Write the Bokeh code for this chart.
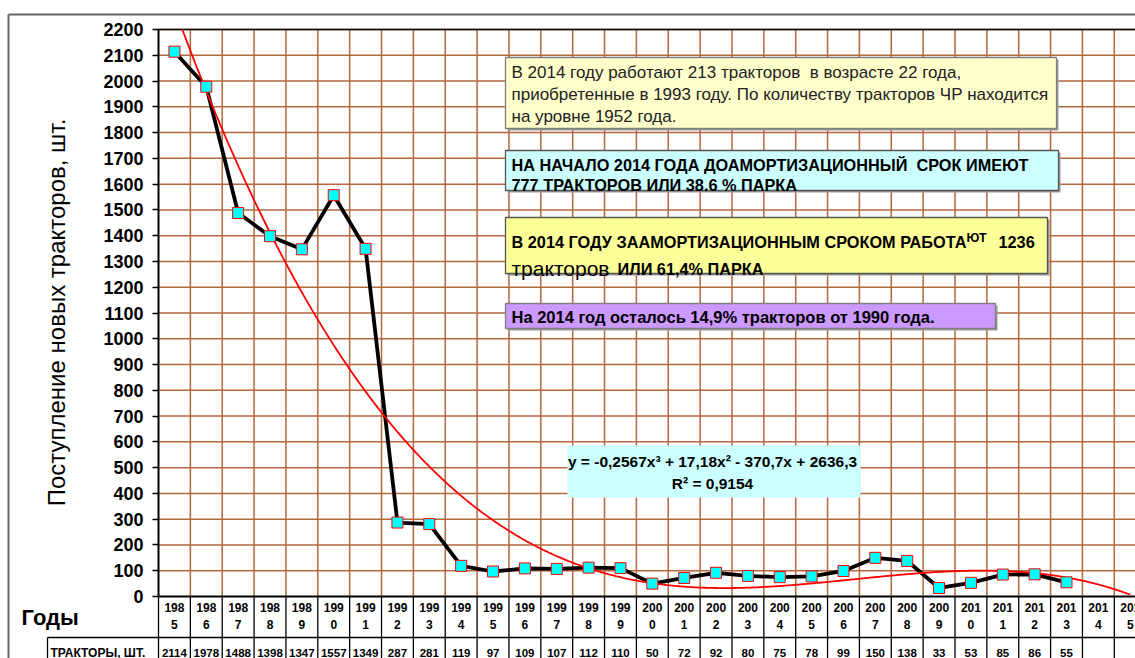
import numpy as np
from math import pi
from bokeh.plotting import figure
from bokeh.models import LinearAxis, FixedTicker, Range1d
from bokeh.embed import file_html
from bokeh.resources import INLINE
from bokeh.core.properties import value

# ---------------- data ----------------
years = list(range(1985, 2016))
tractors = [2114, 1978, 1488, 1398, 1347, 1557, 1349, 287, 281, 119, 97, 109, 107,
            112, 110, 50, 72, 92, 80, 75, 78, 99, 150, 138, 33, 53, 85, 86, 55]
value_labels = [str(v) for v in tractors] + [""] * (len(years) - len(tractors))
year_top = [str(y)[:3] for y in years]
year_bot = [str(y)[3:] for y in years]
y_ticks = list(range(0, 2201, 100))
trend_coef = [-0.2567, 17.18, -370.7, 2636.3]   # y = a x^3 + b x^2 + c x + d, x = 1..31

y_title = "Поступление новых тракторов, шт."
x_title = "Годы"
row_title = "ТРАКТОРЫ, ШТ."
box1_lines = ["В 2014 году работают 213 тракторов \u00a0в возрасте 22 года,",
              "приобретенные в 1993 году. По количеству тракторов ЧР находится",
              "на уровне 1952 года."]
box2_lines = ["НА НАЧАЛО 2014 ГОДА ДОАМОРТИЗАЦИОННЫЙ \u00a0СРОК ИМЕЮТ",
              "777 ТРАКТОРОВ ИЛИ 38.6 % ПАРКА"]
box3_parts = ["В 2014 ГОДУ ЗААМОРТИЗАЦИОННЫМ СРОКОМ РАБОТА", "ЮТ", "1236",
              "тракторов", "ИЛИ 61,4% ПАРКА"]
box4_text = "На 2014 год осталось 14,9% тракторов от 1990 года."
eq_lines = ["y = -0,2567x³ + 17,18x² - 370,7x + 2636,3", "R² = 0,9154"]

# ---------------- geometry ----------------
W, H = 1135, 658
PAGE = 0
PLOT_L, PLOT_T, PLOT_B = 158, 29, 596   # page px
COL_W = 31.86
Y_MAX = 2200
ppu = (PLOT_B - PLOT_T) / Y_MAX
x_start = years[0] - 0.5
x0 = x_start - (PLOT_L - PAGE) / COL_W
x1 = x0 + W / COL_W
y1 = Y_MAX + (PLOT_T - PAGE) / ppu
y0 = -((PAGE + H) - PLOT_B) / ppu


def X(px):
    return x0 + (px - PAGE) / COL_W


def Y(py):
    return y1 - (py - PAGE) / ppu


FONT = value("Liberation Sans")

p = figure(width=W, height=H, x_range=Range1d(x0, x1), y_range=Range1d(y0, y1),
           output_backend="svg", toolbar_location=None, title=None,
           x_axis_location=None, y_axis_location=None, min_border=0,
           outline_line_color=None, background_fill_color="white",
           border_fill_color="white")
p.xgrid.visible = False
p.ygrid.visible = False

GRID = "#B5673F"
# horizontal grid
hy = y_ticks[1:]
p.segment(x0=[x_start] * len(hy), x1=[x1] * len(hy), y0=hy, y1=hy,
          line_color=GRID, line_width=1.5)
# vertical grid at category boundaries
bounds = [x_start + k for k in range(len(years) + 1)]
p.segment(x0=bounds[1:], x1=bounds[1:], y0=[0] * len(bounds[1:]), y1=[Y_MAX] * len(bounds[1:]),
          line_color=GRID, line_width=1.5)
# top border of plot area
p.segment(x0=[x_start], x1=[x1], y0=[Y_MAX], y1=[Y_MAX], line_color="black", line_width=1.5)

# table lines
p.segment(x0=[x_start], x1=[x1], y0=[0], y1=[0], line_color="black", line_width=1.8)
p.segment(x0=bounds, x1=bounds, y0=[0] * len(bounds), y1=[y0] * len(bounds),
          line_color="black", line_width=1.3)
p.segment(x0=[X(47)], x1=[x1], y0=[Y(637)], y1=[Y(637)], line_color="black", line_width=1.3)
p.segment(x0=[X(47)], x1=[X(47)], y0=[Y(637)], y1=[y0], line_color="black", line_width=1.3)

# outer chart border
p.segment(x0=[X(8)], x1=[x1], y0=[Y(14)], y1=[Y(14)], line_color="#666666", line_width=2)
p.segment(x0=[X(8)], x1=[X(8)], y0=[Y(14)], y1=[y0], line_color="#666666", line_width=2)

# y axis
yaxis = LinearAxis(fixed_location=x_start, ticker=FixedTicker(ticks=y_ticks), bounds=(0, Y_MAX),
                   axis_line_width=2, axis_line_color="black",
                   major_tick_out=6, major_tick_in=0, major_tick_line_width=1.5,
                   minor_tick_line_color=None,
                   major_label_text_font_style="bold", major_label_text_font_size="18px",
                   major_label_text_font="Liberation Sans", major_label_text_color="black",
                   major_label_standoff=9)
p.add_layout(yaxis, "left")

# text boxes
def box(l, t, r, b, fill, line="#7f7f7f", shadow=True):
    if shadow:
        p.quad(left=[X(l + 2)], right=[X(r + 2)], top=[Y(t + 2)], bottom=[Y(b + 2)],
               fill_color="#9a9a9a", line_color=None)
    p.quad(left=[X(l)], right=[X(r)], top=[Y(t)], bottom=[Y(b)], fill_color=fill,
           line_color=line, line_width=1.3 if line else 0)


def txt(px, py, s, size, bold=False, align="left", baseline="middle", color="black", angle=0):
    p.text(x=[X(px)], y=[Y(py)], text=[s], text_font=FONT, text_font_size=f"{size}px",
           text_font_style="bold" if bold else "normal", text_align=align,
           text_baseline=baseline, text_color=color, angle=angle)


box(505, 57, 1056, 128, "#FFFFCC")
for i, s in enumerate(box1_lines):
    txt(511, 72 + 22 * i, s, 17, color="#222222")

box(505, 150, 1058, 190, "#CCFFFF", line="#555555")
txt(511, 164, box2_lines[0], 16.3, bold=True)
txt(511, 184, box2_lines[1], 16.3, bold=True)

box(505, 217, 1047, 273, "#FFFF99", line="#555555")
txt(511, 241, box3_parts[0], 16.3, bold=True, baseline="alphabetic")
txt(966, 237, box3_parts[1], 12.5, bold=True, baseline="alphabetic")
txt(998, 241, box3_parts[2], 16.3, bold=True, baseline="alphabetic")
txt(511, 268, box3_parts[3], 21, baseline="alphabetic")
txt(617, 268, box3_parts[4], 16.3, bold=True, baseline="alphabetic")

box(505, 303, 995, 328, "#CC99FF", line="#7f7f7f")
txt(511, 316, box4_text, 16.5, bold=True)

box(567, 445, 860, 497, "#CCFFFF", line=None, shadow=False)
txt(712, 461, eq_lines[0], 15.5, bold=True, align="center")
txt(712, 483, eq_lines[1], 15.5, bold=True, align="center")

# series
xs = years[:len(tractors)]
p.line(xs, tractors, line_color="black", line_width=3.8)

t = np.linspace(1, len(years), 800)
ty = np.polyval(trend_coef, t)
keep = ty <= Y_MAX
tx = t[keep]
tyy = ty[keep]
idx = np.argmax(keep)
if idx > 0:
    ta, tb = t[idx - 1], t[idx]
    ya, yb = ty[idx - 1], ty[idx]
    tc = ta + (Y_MAX - ya) * (tb - ta) / (yb - ya)
    tx = np.concatenate([[tc], tx])
    tyy = np.concatenate([[Y_MAX], tyy])
p.line(tx + years[0] - 1, tyy, line_color="red", line_width=1.8)

p.scatter(xs, tractors, marker="square", size=11, fill_color="#00FFFF",
          line_color="red", line_width=1)

# axis titles and table texts
txt(56, 312, y_title, 24, align="center", angle=pi / 2)
txt(21, 617, x_title, 22, bold=True)
txt(50, 652, row_title, 12, bold=True)
p.text(x=years, y=[Y(607)] * len(years), text=year_top, text_font=FONT, text_font_size="12px",
       text_font_style="bold", text_align="center", text_baseline="middle")
p.text(x=years, y=[Y(624)] * len(years), text=year_bot, text_font=FONT, text_font_size="12px",
       text_font_style="bold", text_align="center", text_baseline="middle")
p.text(x=years, y=[Y(652)] * len(years), text=value_labels, text_font=FONT, text_font_size="11.5px",
       text_font_style="bold", text_align="center", text_baseline="middle")

open("out.html", "w").write(file_html(p, INLINE))
